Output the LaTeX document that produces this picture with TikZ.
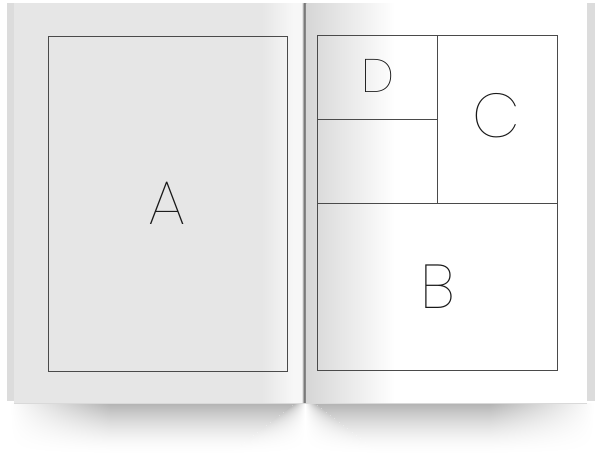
\documentclass[tikz,border=0pt]{standalone}
\usepackage{fontspec}
\newfontfamily\thinfont{Poppins Thin}
\definecolor{pagegray}{HTML}{E6E6E6}
\definecolor{edgegray}{HTML}{DCDCDC}
\definecolor{linegray}{HTML}{4A4A4A}
\tikzset{
  frame/.style={draw=linegray, line width=0.9pt},
  letter/.style={inner sep=0pt, text=black!90, font=\thinfont\fontsize{62}{62}\selectfont},
  smallletter/.style={inner sep=0pt, text=black!90, font=\thinfont\fontsize{47}{47}\selectfont}
}
\begin{document}
\begin{tikzpicture}[x=1pt,y=-1pt]
\useasboundingbox (0,0) rectangle (600,459);
\fill[white] (0,0) rectangle (600,459);
% shadow below the book, built from thin strips
\foreach \i in {0,...,52}{
  \pgfmathsetmacro\amt{30*(1-\i/52)^1.7}
  \pgfmathsetmacro\w{10+\i*1.3}
  \colorlet{sc}{black!\amt}
  \shade[left color=white, right color=sc, draw=none] (10,403+\i) rectangle (110,404.3+\i);
  \fill[sc] (110,403+\i) rectangle (305-\w,404.3+\i);
  \shade[left color=sc, right color=white, draw=none] (305-\w,403+\i) rectangle (305,404.3+\i);
  \shade[left color=white, right color=sc, draw=none] (305,403+\i) rectangle (305+\w,404.3+\i);
  \fill[sc] (305+\w,403+\i) rectangle (490,404.3+\i);
  \shade[left color=sc, right color=white, draw=none] (490,403+\i) rectangle (594,404.3+\i);
}
% left page
\fill[edgegray] (7,3) rectangle (14,401);
\fill[pagegray] (14,3) rectangle (303,403);
\shade[left color=pagegray, right color=white!97!black] (262,3) rectangle (294,403);
\fill[white!97!black] (294,3) rectangle (301,403);
\shade[left color=white!97!black, right color=black!22] (301,3) rectangle (303.5,403);
% spine
\shade[left color=black!55, right color=black!40] (303.5,3) rectangle (306.5,403);
% right page
\fill[white] (306.5,3) rectangle (587,403);
\shade[left color=black!16, right color=white] (306.5,3) rectangle (395,403);
\fill[edgegray] (587,3) rectangle (595,401);
\draw[black!15, line width=0.6pt] (14,403) -- (587,403);
% frames
\draw[frame] (48,36) rectangle (287.5,371);
\coordinate (rtl) at (317,35);
\coordinate (rbr) at (557,370);
\draw[frame] (rtl) rectangle (rbr);
\draw[frame] (317,203) -- (557,203);
\draw[frame] (437,35) -- (437,203);
\draw[frame] (317,119) -- (437,119);
% letters
\node[letter] (A) at (167.5,203) {A};
\node[smallletter] (D) at (378,75.5) {D};
\node[letter] (C) at (496,116) {C};
\node[letter] (B) at (438,287) {B};
\end{tikzpicture}
\end{document}
